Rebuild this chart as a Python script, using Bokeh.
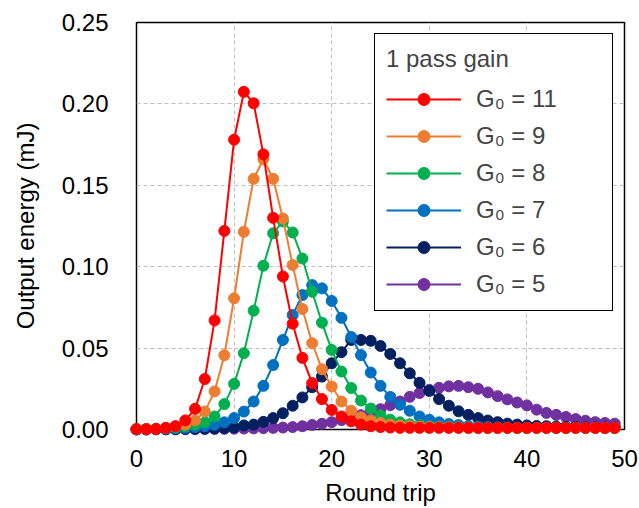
from bokeh.plotting import figure
from bokeh.models import Legend, LegendItem, Range1d, FixedTicker, NumeralTickFormatter
from bokeh.embed import file_html
from bokeh.resources import INLINE

round_trip = list(range(50))

e_g11 = [0.0002, 0.0002, 0.0003, 0.001, 0.002, 0.0056, 0.0127, 0.031, 0.067, 0.122,
         0.178, 0.2074, 0.2004, 0.169, 0.130, 0.094, 0.065, 0.044, 0.0285, 0.0187,
         0.012, 0.008, 0.005, 0.003, 0.002, 0.0015, 0.0012, 0.001, 0.001, 0.001,
         0.001, 0.001, 0.001, 0.001, 0.001, 0.001, 0.001, 0.001, 0.001, 0.001,
         0.001, 0.001, 0.001, 0.001, 0.001, 0.001, 0.001, 0.001, 0.001, 0.001]
e_g9 = [0.0002, 0.0003, 0.0005, 0.001, 0.002, 0.003, 0.0056, 0.011, 0.0234, 0.0456,
        0.0806, 0.1214, 0.154, 0.166, 0.154, 0.1296, 0.101, 0.074, 0.053, 0.037,
        0.0264, 0.0172, 0.0115, 0.0075, 0.0056, 0.004, 0.003, 0.0024, 0.002, 0.0017,
        0.0015, 0.0014, 0.0013, 0.0012, 0.0011, 0.001, 0.001, 0.001, 0.001, 0.001,
        0.001, 0.001, 0.001, 0.001, 0.001, 0.001, 0.001, 0.001, 0.001, 0.001]
e_g8 = [0.0002, 0.0003, 0.0005, 0.0008, 0.0012, 0.002, 0.003, 0.0044, 0.008, 0.0156,
        0.028, 0.0469, 0.073, 0.1006, 0.1205, 0.1278, 0.121, 0.105, 0.0846, 0.0656,
        0.0489, 0.0356, 0.0255, 0.0178, 0.0129, 0.0087, 0.006, 0.0044, 0.0032, 0.0025,
        0.002, 0.0017, 0.0015, 0.0013, 0.0012, 0.0011, 0.001, 0.001, 0.001, 0.001,
        0.001, 0.001, 0.001, 0.001, 0.001, 0.001, 0.001, 0.001, 0.001, 0.001]
e_g7 = [0.0001, 0.0002, 0.0003, 0.0005, 0.0008, 0.001, 0.0015, 0.002, 0.0028, 0.0044,
        0.007, 0.011, 0.0172, 0.0268, 0.0396, 0.055, 0.0703, 0.0826, 0.0887, 0.0867,
        0.079, 0.0686, 0.0568, 0.0457, 0.035, 0.0268, 0.020, 0.0152, 0.0115, 0.008,
        0.006, 0.0044, 0.0034, 0.0027, 0.0022, 0.0018, 0.0015, 0.0013, 0.0012, 0.0011,
        0.001, 0.001, 0.001, 0.001, 0.001, 0.001, 0.001, 0.001, 0.001, 0.001]
e_g6 = [0.0001, 0.0001, 0.0002, 0.0002, 0.0003, 0.0004, 0.0005, 0.0006, 0.0008, 0.001,
        0.0013, 0.0025, 0.003, 0.0047, 0.007, 0.010, 0.0146, 0.0197, 0.026, 0.0325,
        0.0407, 0.0475, 0.055, 0.055, 0.0545, 0.0513, 0.0464, 0.0407, 0.0345, 0.0287,
        0.0237, 0.0187, 0.0146, 0.0112, 0.009, 0.007, 0.0055, 0.0045, 0.0036, 0.003,
        0.0025, 0.0022, 0.002, 0.0018, 0.0016, 0.0015, 0.0014, 0.0013, 0.0012, 0.0011]
e_g5 = [0.0, 0.0, 0.0001, 0.0001, 0.0001, 0.0002, 0.0002, 0.0003, 0.0003, 0.0004,
        0.0005, 0.0006, 0.0007, 0.0008, 0.001, 0.0012, 0.0015, 0.002, 0.0028, 0.0035,
        0.0045, 0.0058, 0.0072, 0.0088, 0.0105, 0.0125, 0.015, 0.0172, 0.0201, 0.0224,
        0.0244, 0.0256, 0.0265, 0.0268, 0.026, 0.025, 0.0228, 0.0205, 0.0185, 0.0166,
        0.0148, 0.0122, 0.0102, 0.009, 0.0077, 0.0064, 0.0054, 0.0045, 0.004, 0.0036]

series = [
    ("G\u2080 = 11", e_g11, "#FF0000"),
    ("G\u2080 = 9", e_g9, "#ED7D31"),
    ("G\u2080 = 8", e_g8, "#00B050"),
    ("G\u2080 = 7", e_g7, "#0070C0"),
    ("G\u2080 = 6", e_g6, "#002060"),
    ("G\u2080 = 5", e_g5, "#7030A0"),
]

x_ticks = [0, 10, 20, 30, 40, 50]
y_ticks = [0.0, 0.05, 0.10, 0.15, 0.20, 0.25]

FONT = "Liberation Sans"
FS = "24px"

p = figure(width=639, height=508, output_backend="svg", toolbar_location=None,
           x_range=Range1d(0, 50), y_range=Range1d(0, 0.25),
           min_border_left=136, min_border_right=15, min_border_top=22, min_border_bottom=78)

p.outline_line_color = "black"
p.outline_line_width = 1.5
p.background_fill_color = "white"
p.border_fill_color = "white"

for ax in (p.xaxis[0], p.yaxis[0]):
    ax.axis_line_color = None
    ax.major_tick_in = 0
    ax.major_tick_out = 0
    ax.minor_tick_line_color = None
    ax.major_label_text_font = FONT
    ax.major_label_text_font_size = FS
    ax.major_label_text_color = "black"
    ax.axis_label_text_font = FONT
    ax.axis_label_text_font_size = FS
    ax.axis_label_text_font_style = "normal"
    ax.axis_label_text_color = "black"

p.xaxis.ticker = FixedTicker(ticks=x_ticks)
p.yaxis.ticker = FixedTicker(ticks=y_ticks)
p.yaxis.formatter = NumeralTickFormatter(format="0.00")
p.xaxis.axis_label = "Round trip"
p.yaxis.axis_label = "Output energy (mJ)"
p.xaxis.major_label_standoff = 20
p.yaxis.major_label_standoff = 28
p.xaxis.axis_label_standoff = 9
p.yaxis.axis_label_standoff = 20

for g in (p.xgrid[0], p.ygrid[0]):
    g.grid_line_color = "#BFBFBF"
    g.grid_line_dash = "4 3"
    g.grid_line_width = 1

items = {}
for label, vals, color in reversed(series):
    lr = p.line(round_trip, vals, line_color=color, line_width=2, level="overlay")
    sr = p.scatter(round_trip, vals, size=11, fill_color=color, line_color=color, level="overlay")
    items[label] = [lr, sr]

legend = Legend(
    items=[LegendItem(label=label, renderers=items[label]) for label, _, _ in series],
    location=(238, 118),
    title="1 pass gain",
    title_text_font=FONT, title_text_font_size=FS, title_text_font_style="normal",
    title_standoff=11,
    label_text_font=FONT, label_text_font_size=FS,
    glyph_width=75, glyph_height=30, label_height=30, label_width=125, label_standoff=15,
    spacing=7, padding=11, margin=0,
    border_line_color="black", border_line_width=1.5, border_line_alpha=1.0,
    background_fill_color="white", background_fill_alpha=1.0,
)
p.add_layout(legend)

open("out.html", "w").write(file_html(p, INLINE))
